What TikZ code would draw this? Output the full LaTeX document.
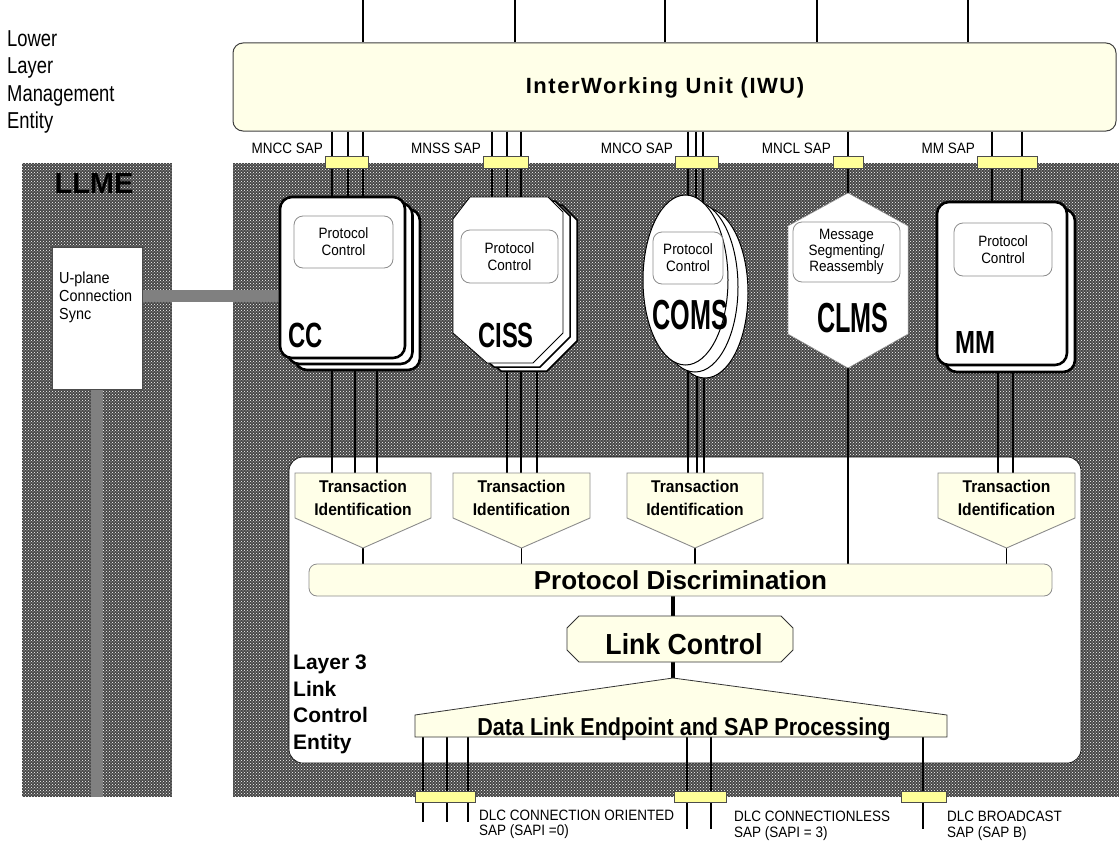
\documentclass[tikz,border=0pt]{standalone}
\usepackage{fontspec}
\setmainfont{Liberation Sans}
\newfontfamily\fsA[FakeStretch=0.68]{Liberation Sans}
\newfontfamily\fsB[FakeStretch=0.6]{Liberation Sans}
\newfontfamily\fsC[FakeStretch=0.75]{Liberation Sans}
\newfontfamily\fsD[FakeStretch=0.9]{Liberation Sans}
\newfontfamily\fsE[FakeStretch=0.8]{Liberation Sans}
\newfontfamily\fsF[FakeStretch=0.88]{Liberation Sans}
\newfontfamily\fsH[FakeStretch=0.92]{Liberation Sans}
\newfontfamily\fsG[LetterSpace=7]{Liberation Sans}
\usetikzlibrary{patterns,shapes.geometric,calc}
\pgfdeclarelayer{back}
\pgfdeclarelayer{lines}
\pgfsetlayers{back,lines,main}
\definecolor{cream}{HTML}{FFFFE8}
\definecolor{sapy}{HTML}{FFFF99}
\definecolor{pcg}{HTML}{8C8C8C}
\definecolor{ugray}{HTML}{808080}
\newcommand{\myfs}[2]{\fontsize{#1}{#2}\selectfont}
\tikzset{
  tex/.style={fill=black!72, postaction={pattern=crosshatch dots, pattern color=white}},
  conn/.style={draw=black, line width=1.6pt},
  topln/.style={draw=black, line width=1.2pt},
  sapbox/.style={draw=black!70, fill=sapy, line width=0.8pt, minimum height=12pt, inner sep=0pt},
  pcbox/.style={draw=pcg, fill=white, line width=0.8pt, rounded corners=9pt, inner sep=0pt, align=center, font=\fsD\myfs{15}{17}},
  entbox/.style={draw=black, fill=white, line width=2.6pt, rounded corners=12pt, inner sep=0pt},
  ghost/.style={inner sep=0pt, draw=none},
  lbl/.style={inner sep=0pt, font=\fsD\myfs{15}{15}},
  tishape/.style={fill=cream, draw=pcg, line width=0.9pt},
  tifont/.style={inner sep=0pt, align=center, font=\fsH\bfseries\myfs{17}{23}},
  l3font/.style={anchor=base west, inner sep=0pt, font=\bfseries\myfs{21}{21}},
  lcshape/.style={fill=cream, draw=black!80, line width=0.8pt},
}
\begin{document}
\begin{tikzpicture}[x=1pt,y=-1pt]
\useasboundingbox (0,0) rectangle (1119,843);
\begin{pgfonlayer}{back}
\fill[white] (0,0) rectangle (1119,843);
\path[tex] (233,163) rectangle (1119,797);
\path[tex] (22,163) rectangle (172,797);
\node[font=\bfseries\myfs{29}{29}, inner sep=0pt, anchor=base] (llme) at (94,193) {LLME};
\node[draw=black, line width=0.6pt, fill=white, rounded corners=14pt, minimum width=792, minimum height=306, inner sep=0pt] (l3) at (685,610) {};
\node[draw=black!75, line width=1pt, fill=cream, rounded corners=10pt, minimum width=883, minimum height=88, inner sep=0pt] (iwu) at (674.5,87) {};
\node[font=\fsG\bfseries\myfs{22}{22}, inner sep=0pt] (iwut) at (665,88) {InterWorking Unit (IWU)};
\end{pgfonlayer}

% left text
\foreach \t/\yy [count=\i] in {Lower/47,Layer/74,Management/101,Entity/128}
  \node[anchor=base west, inner sep=0pt, font=\fsE\myfs{23}{23}] (lle\i) at (7,\yy) {\t};

% CC
\node[entbox, minimum width=125, minimum height=161] (cc3) at (357.5,289.5) {};
\node[entbox, minimum width=125, minimum height=161] (cc2) at (350,283.5) {};
\node[entbox, minimum width=125, minimum height=161] (cc) at (342.5,277.5) {};
\node[pcbox, minimum width=99, minimum height=52] (ccpc) at (343.5,242) {Protocol\\Control};
\node[anchor=base west, inner sep=0pt, font=\fsA\bfseries\myfs{35}{35}] (ccn) at (288,347) {CC};

% CISS
\foreach \dx/\dy in {14/8,7/4}
  \draw[fill=white, line width=1.5pt, shift={(\dx,\dy)}] (470,197) -- (548,197) -- (563,212) -- (563,333) -- (533,363) -- (487,363) -- (453,333) -- (453,219) -- cycle;
\draw[fill=white, line width=0.8pt] (470,197) -- (548,197) -- (563,212) -- (563,333) -- (533,363) -- (487,363) -- (453,333) -- (453,219) -- cycle;
\node[ghost, minimum width=112, minimum height=166] (ciss) at (508,280) {};
\node[pcbox, minimum width=97, minimum height=53] (cisspc) at (509.5,256.5) {Protocol\\Control};
\node[anchor=base west, inner sep=0pt, font=\fsA\bfseries\myfs{35}{35}] (cissn) at (478,347) {CISS};

% COMS
\node[ellipse, draw, fill=white, line width=1pt, minimum width=86, minimum height=170, inner sep=0pt] (coms3) at (705,293) {};
\node[ellipse, draw, fill=white, line width=1pt, minimum width=86, minimum height=170, inner sep=0pt] (coms2) at (695,287) {};
\node[ellipse, draw, fill=white, line width=1pt, minimum width=85, minimum height=170, inner sep=0pt] (coms) at (685.5,280) {};
\node[pcbox, minimum width=70, minimum height=52] (comspc) at (688,258) {Protocol\\Control};
\node[anchor=base, inner sep=0pt, font=\fsB\bfseries\myfs{42}{42}] (comsn) at (690,329) {COMS};

% CLMS
\draw[fill=white, draw=black!40, line width=0.5pt] (848,193) -- (908,226) -- (908,334) -- (848,368) -- (788,334) -- (788,226) -- cycle;
\node[ghost, minimum width=120, minimum height=175] (clms) at (848,280.5) {};
\node[pcbox, minimum width=107, minimum height=60, font=\fsD\myfs{15}{16}] (clmspc) at (846.5,252) {Message\\Segmenting/\\Reassembly};
\node[anchor=base west, inner sep=0pt, font=\fsB\bfseries\myfs{42}{42}] (clmsn) at (817,332) {CLMS};

% MM
\node[entbox, minimum width=130, minimum height=163] (mm2) at (1010,290.5) {};
\node[entbox, minimum width=130, minimum height=163] (mm) at (1002,283.5) {};
\node[pcbox, minimum width=98, minimum height=53] (mmpc) at (1003,249.5) {Protocol\\Control};
\node[anchor=base west, inner sep=0pt, font=\fsC\bfseries\myfs{32}{32}] (mmn) at (955,353) {MM};

% SAP boxes top
\node[sapbox, minimum width=43] (s1) at (346.5,162) {};
\node[sapbox, minimum width=45] (s2) at (505.5,162) {};
\node[sapbox, minimum width=43] (s3) at (696.5,162) {};
\node[sapbox, minimum width=30] (s4) at (848,162) {};
\node[sapbox, minimum width=60] (s5) at (1007,162) {};
\node[lbl, anchor=base east] (l1) at (323,153) {MNCC SAP};
\node[lbl, anchor=base east] (l2) at (481,153) {MNSS SAP};
\node[lbl, anchor=base east] (l3t) at (673,153) {MNCO SAP};
\node[lbl, anchor=base east] (l4) at (831,153) {MNCL SAP};
\node[lbl, anchor=base east] (l5) at (975,153) {MM SAP};

% Transaction Identification
\foreach \n/\l/\r in {1/295/431,2/453/590,3/627/763,4/938/1075} {
  \draw[tishape] (\l,473) -- (\r,473) -- (\r,518) -- ({(\l+\r)/2},548) -- (\l,518) -- cycle;
  \node[ghost, minimum width={\r-\l}, minimum height=45] (ti\n) at ({(\l+\r)/2},495.5) {};
  \coordinate (tip\n) at ({(\l+\r)/2},548);
  \node[tifont] (tit\n) at ({(\l+\r)/2},498) {Transaction\\Identification};
}

% Protocol Discrimination
\node[draw=pcg, fill=cream, line width=0.8pt, rounded corners=8pt, minimum width=743, minimum height=32, inner sep=0pt, font=\bfseries\myfs{26}{26}] (pd) at (680.5,580) {Protocol Discrimination};

% Link Control
\draw[lcshape] (579,616) -- (781,616) -- (793,628) -- (793,650) -- (781,662) -- (579,662) -- (567,650) -- (567,628) -- cycle;
\node[ghost, minimum width=226, minimum height=46] (lc) at (680,639) {};
\node[inner sep=0pt, anchor=base, font=\fsH\bfseries\myfs{29}{29}] (lct) at (684,654) {Link Control};

% Data link
\draw[lcshape] (415,715) -- (673,678) -- (947,715) -- (947,737) -- (415,737) -- cycle;
\node[ghost, minimum width=532, minimum height=59] (dl) at (681,707.5) {};
\coordinate (dlapex) at (673,678);
\node[anchor=base, inner sep=0pt, font=\fsF\bfseries\myfs{24.5}{25}] (dlt) at (684,735) {Data Link Endpoint and SAP Processing};

% Layer 3 text
\node[l3font] (t31) at (293,669) {Layer 3};
\node[l3font] (t32) at (293,696) {Link};
\node[l3font] (t33) at (293,722) {Control};
\node[l3font] (t34) at (293,749) {Entity};

% bottom SAP boxes
\node[sapbox, minimum width=60, minimum height=11] (b1) at (445,796.5) {};
\node[sapbox, minimum width=52, minimum height=11] (b2) at (700,796.5) {};
\node[sapbox, minimum width=45, minimum height=11] (b3) at (923.5,796.5) {};
\node[lbl, anchor=base west] (bl1) at (479,820) {DLC CONNECTION ORIENTED};
\node[lbl, anchor=base west] (bl1b) at (479,835) {SAP (SAPI =0)};
\node[lbl, anchor=base west] (bl2) at (734,821) {DLC CONNECTIONLESS};
\node[lbl, anchor=base west] (bl2b) at (734,837) {SAP (SAPI = 3)};
\node[lbl, anchor=base west] (bl3) at (947,821) {DLC BROADCAST};
\node[lbl, anchor=base west] (bl3b) at (947,837) {SAP (SAP B)};

% U-plane
\node[draw=black!70, fill=white, line width=0.6pt, minimum width=90, minimum height=142, inner sep=0pt] (up) at (97,318) {};
\foreach \t/\yy [count=\i] in {U-plane/283,Connection/301,Sync/319}
  \node[anchor=base west, inner sep=0pt, font=\fsD\myfs{16}{16}] (upt\i) at (59,\yy) {\t};

\begin{pgfonlayer}{lines}
\coordinate (uy) at (0,296);
\coordinate (pbot) at (0,797);
\draw[ugray, line width=12pt] (up.east |- uy) -- (cc.west |- uy);
\draw[ugray, line width=12pt] (up.south) -- (up.south |- pbot);
\foreach \x in {363,515,665,817,968} {\coordinate (tmp) at (\x,0); \draw[topln] (tmp) -- (tmp |- iwu.north);}
\foreach \x/\tgt in {332/cc,348/cc,363/cc,492/ciss,507/ciss,521/ciss,688/coms,696/coms,703/coms,848/clms,992/mm,1022/mm}
  {\coordinate (tmp) at (\x,0); \draw[conn] (tmp |- iwu.south) -- (tmp |- \tgt.center);}
\foreach \x/\src/\tgt in {332/cc/ti1,355/cc/ti1,377/cc/ti1,507/ciss/ti2,521/ciss/ti2,537/ciss/ti2,688/coms/ti3,697/coms/ti3,704/coms/ti3,998/mm/ti4,1013/mm/ti4}
  {\coordinate (tmp) at (\x,0); \draw[conn] (tmp |- \src.center) -- (tmp |- \tgt.north);}
\draw[conn] (clms.center) -- (clms.center |- pd.north);
\foreach \n in {1,...,4} \draw[conn] (tip\n) -- (tip\n |- pd.north);
\coordinate (lcx) at (673,0);
\draw[line width=3.5pt] (lcx |- pd.south) -- (lcx |- lc.north);
\draw[line width=3.5pt] (lcx |- lc.south) -- (dlapex);
\foreach \x/\e in {423/822,447/822,468/822,687/829,711/829,923/829}
  {\coordinate (tmp) at (\x,\e); \draw[conn] (tmp |- dl.south) -- (tmp);}
\end{pgfonlayer}
\end{tikzpicture}
\end{document}
